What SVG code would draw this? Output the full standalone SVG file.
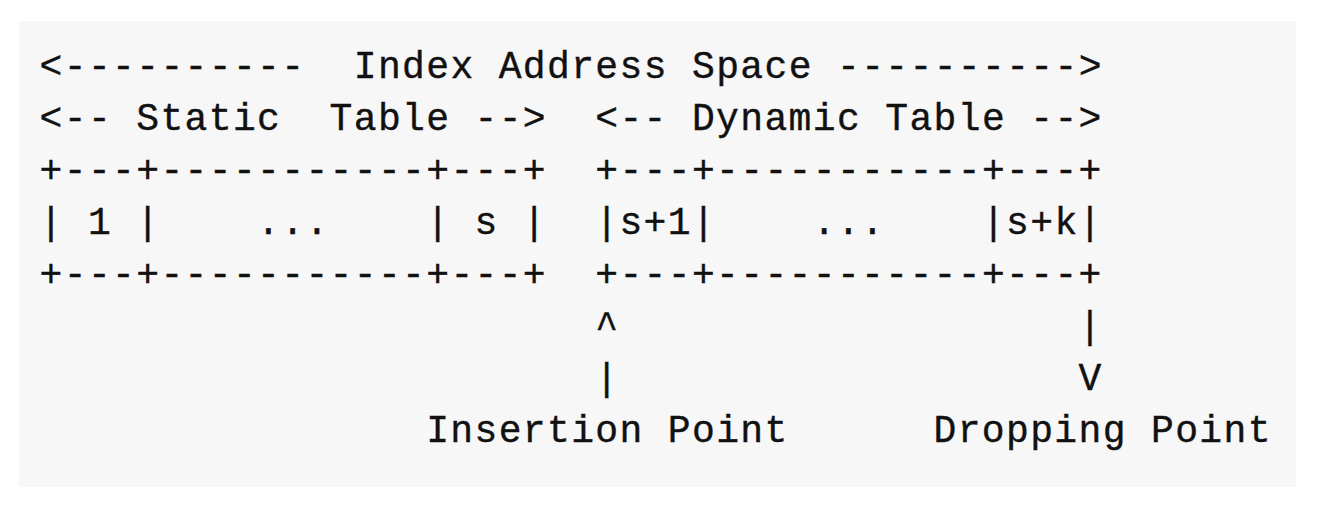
<svg xmlns="http://www.w3.org/2000/svg" width="1342" height="520" viewBox="0 0 1342 520">
  <style>
    text { font-family: "Liberation Mono", "DejaVu Sans Mono", monospace; font-size: 38px; letter-spacing: 1.36px; fill: #111111; stroke: #111111; stroke-width: 0.4px; white-space: pre; }
  </style>
  <rect x="0" y="0" width="1342" height="520" fill="#ffffff"/>
  <rect id="panel" x="19" y="21" width="1277" height="466" fill="#f7f7f7"/>
  <g id="index-space">
    <text x="39.6" y="77.5" xml:space="preserve">&lt;----------  Index Address Space ----------&gt;</text>
  </g>
  <g id="static-table">
    <text x="39.6" y="129.6" xml:space="preserve">&lt;-- Static  Table --&gt;</text>
    <text x="39.6" y="181.7" xml:space="preserve">+---+-----------+---+</text>
    <text x="39.6" y="233.8" xml:space="preserve">| 1 |    ...    | s |</text>
    <text x="39.6" y="285.9" xml:space="preserve">+---+-----------+---+</text>
  </g>
  <g id="dynamic-table">
    <text x="595.3" y="129.6" xml:space="preserve">&lt;-- Dynamic Table --&gt;</text>
    <text x="595.3" y="181.7" xml:space="preserve">+---+-----------+---+</text>
    <text x="595.3" y="233.8" xml:space="preserve">|s+1|    ...    |s+k|</text>
    <text x="595.3" y="285.9" xml:space="preserve">+---+-----------+---+</text>
  </g>
  <g id="connectors">
    <text x="595.3" y="338">^</text>
    <text x="595.3" y="390.1">|</text>
    <text x="1078.5" y="338">|</text>
    <text x="1078.5" y="390.1">V</text>
  </g>
  <g id="insertion-point">
    <text x="426.2" y="442.2" xml:space="preserve">Insertion Point</text>
  </g>
  <g id="dropping-point">
    <text x="933.5" y="442.2" xml:space="preserve">Dropping Point</text>
  </g>
</svg>
